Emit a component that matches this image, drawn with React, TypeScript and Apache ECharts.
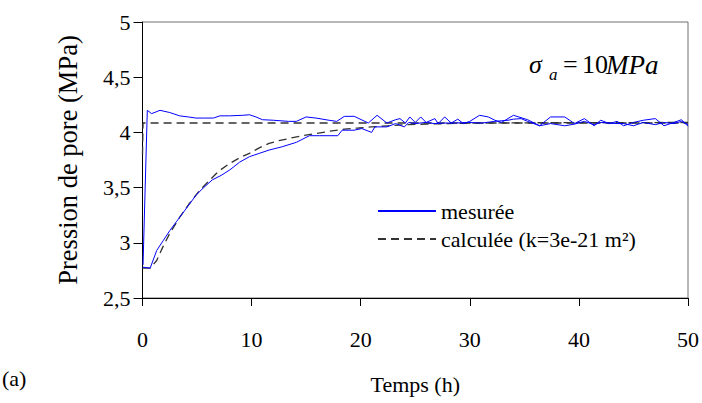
import React, { useEffect, useRef } from "react";
import * as echarts from "echarts";

const xTicks = [0, 10, 20, 30, 40, 50];
const yTicks = [2.5, 3, 3.5, 4, 4.5, 5];
const legendMeasured = "mesurée";
const legendCalc = "calculée (k=3e-21 m²)";

// measured curve reaching the plateau immediately (h, MPa)
const measuredJump = [
  [0.05, 2.8], [0.44, 4.2], [0.84, 4.17], [1.6, 4.2], [2.5, 4.18], [3.4, 4.15], [4.2, 4.14],
  [4.9, 4.13], [5.7, 4.13], [6.5, 4.13], [7.1, 4.15], [8.0, 4.15], [9.2, 4.155], [9.8, 4.16],
  [10.4, 4.14], [11.0, 4.115], [12.0, 4.11], [13.4, 4.1], [14.1, 4.1], [15.0, 4.14], [15.9, 4.13],
  [17.1, 4.11], [17.8, 4.1], [18.5, 4.145], [19.4, 4.146], [20.7, 4.085], [21.5, 4.155],
  [22.4, 4.085], [23.2, 4.115], [23.6, 4.125], [24.1, 4.085], [24.5, 4.14], [25.0, 4.09],
  [25.5, 4.14], [26.0, 4.09], [26.8, 4.125], [27.1, 4.08], [27.7, 4.14], [28.3, 4.085],
  [28.9, 4.12], [29.4, 4.08], [30.0, 4.1], [30.9, 4.155], [31.7, 4.14], [32.3, 4.11],
  [32.9, 4.09], [34.0, 4.155], [35.3, 4.115], [36.4, 4.06], [37.4, 4.14], [38.7, 4.14],
  [39.6, 4.08], [40.5, 4.125], [41.4, 4.06], [42.0, 4.11], [42.8, 4.08], [43.5, 4.1],
  [44.1, 4.06], [45.0, 4.09], [45.9, 4.11], [47.0, 4.125], [47.8, 4.06], [48.7, 4.09],
  [49.4, 4.115], [50.0, 4.055],
];

// measured curve rising slowly (h, MPa)
const measuredRise = [
  [0, 2.78], [0.7, 2.77], [1.3, 2.93], [1.9, 3.02], [2.5, 3.11], [3.1, 3.19], [3.7, 3.27],
  [4.3, 3.35], [4.9, 3.43], [5.6, 3.5], [6.4, 3.57], [7.2, 3.61], [8.0, 3.66], [8.9, 3.73],
  [9.8, 3.78], [10.7, 3.81], [11.6, 3.84], [12.8, 3.87], [14.1, 3.91], [15.3, 3.97],
  [16.2, 3.97], [17.1, 3.97], [17.9, 3.97], [18.3, 4.02], [19.4, 4.02], [20.1, 4.035],
  [21.0, 4.0], [21.3, 4.05], [22.4, 4.05], [23.2, 4.08], [24.0, 4.05], [24.4, 4.09],
  [25.0, 4.08], [25.9, 4.09], [26.8, 4.08], [27.7, 4.085], [28.6, 4.085], [29.9, 4.09],
  [31.1, 4.085], [32.3, 4.1], [33.5, 4.11], [34.0, 4.12], [34.7, 4.125], [35.3, 4.1],
  [36.4, 4.06], [37.4, 4.08], [38.7, 4.06], [39.6, 4.075], [40.5, 4.1], [41.4, 4.07],
  [42.0, 4.09], [43.5, 4.08], [44.1, 4.08], [45.0, 4.06], [45.9, 4.09], [47.0, 4.07],
  [47.8, 4.09], [48.7, 4.08], [49.4, 4.1], [50.0, 4.07],
];

// calculated curves (h, MPa)
const calcRise = [
  [0, 2.77], [0.7, 2.77], [1.3, 2.84], [1.9, 2.97], [2.5, 3.085], [3.4, 3.23], [4.3, 3.356],
  [5.2, 3.47], [6.15, 3.567], [7.0, 3.65], [7.98, 3.718], [8.9, 3.77], [9.8, 3.81],
  [10.7, 3.86], [11.6, 3.9], [12.5, 3.925], [13.4, 3.944], [14.6, 3.97], [15.9, 3.989],
  [17.1, 4.01], [18.5, 4.03], [19.8, 4.04], [21.0, 4.05], [22.5, 4.06], [24, 4.07],
  [26, 4.075], [28, 4.08], [31, 4.085], [35, 4.087], [40, 4.088], [45, 4.089], [50, 4.09],
];
const calcPlateau = [[0, 3.8], [0.05, 4.085], [50, 4.085]];

const FONT = "Liberation Serif";
const fmt = (v: number) => String(v).replace(".", ",");

export default function App() {
  const ref = useRef<HTMLDivElement>(null);
  useEffect(() => {
    if (!ref.current) return;
    const chart = echarts.init(ref.current, null, { renderer: "svg" });
    const blue = { color: "#0000ff", width: 1 };
    const dash = { color: "#333333", width: 1.3, type: [8, 5] as any };
    chart.setOption({
      animation: false,
      backgroundColor: "#ffffff",
      textStyle: { fontFamily: FONT },
      grid: {
        left: 142.5, right: 11, top: 22, bottom: 105,
        show: true, borderColor: "#707070", borderWidth: 1, backgroundColor: "transparent",
      },
      legend: {
        orient: "vertical", left: 372, top: 195, itemWidth: 58, itemHeight: 14, itemGap: 6,
        textStyle: { fontFamily: FONT, fontSize: 22, color: "#000" },
        itemStyle: { opacity: 0 },
        data: [legendMeasured, legendCalc],
      },
      xAxis: {
        type: "value", min: xTicks[0], max: xTicks[xTicks.length - 1], interval: 10,
        name: "Temps (h)", nameLocation: "middle", nameGap: 75,
        nameTextStyle: { fontFamily: FONT, fontSize: 22, color: "#000" },
        axisLine: { show: true, onZero: false, lineStyle: { color: "#000", width: 1 } },
        axisTick: { show: true, inside: false, length: 8, lineStyle: { color: "#000" } },
        axisLabel: { margin: 30, fontFamily: FONT, fontSize: 22, color: "#000", formatter: fmt },
        splitLine: { show: false },
      },
      yAxis: {
        type: "value", min: yTicks[0], max: yTicks[yTicks.length - 1], interval: 0.5,
        name: "Pression de pore (MPa)", nameLocation: "middle", nameGap: 61, nameRotate: 90,
        nameTextStyle: { fontFamily: FONT, fontSize: 26.5, color: "#000" },
        axisLine: { show: true, onZero: false, lineStyle: { color: "#000", width: 1 } },
        axisTick: { show: true, inside: false, length: 9, lineStyle: { color: "#000" } },
        axisLabel: { margin: 12, fontFamily: FONT, fontSize: 22, color: "#000", formatter: fmt },
        splitLine: { show: false },
      },
      series: [
        { name: legendCalc, type: "line", data: calcPlateau, symbol: "none", lineStyle: dash, itemStyle: { color: "#333333" }, z: 2 },
        { name: legendCalc, type: "line", data: calcRise, symbol: "none", lineStyle: dash, itemStyle: { color: "#333333" }, z: 2 },
        { name: legendMeasured, type: "line", data: measuredJump, symbol: "none", lineStyle: blue, itemStyle: { color: "#0000ff" }, z: 3 },
        { name: legendMeasured, type: "line", data: measuredRise, symbol: "none", lineStyle: blue, itemStyle: { color: "#0000ff" }, z: 3 },
      ],
      graphic: [
        { type: "text", left: 2, top: 367, style: { text: "(a)", fontFamily: FONT, fontSize: 22, fill: "#000" } },
        { type: "text", x: 529, y: 64.7, style: { text: "σ", fontFamily: FONT, fontSize: 26, fontStyle: "italic", fill: "#000", verticalAlign: "middle" } },
        { type: "text", x: 549, y: 74.5, style: { text: "a", fontFamily: FONT, fontSize: 17, fontStyle: "italic", fill: "#000", verticalAlign: "middle" } },
        { type: "text", x: 563, y: 64.5, style: { text: "=", fontFamily: FONT, fontSize: 26, fill: "#000", verticalAlign: "middle" } },
        { type: "text", x: 582, y: 64.5, style: { text: "10", fontFamily: FONT, fontSize: 26, fill: "#000", verticalAlign: "middle" } },
        { type: "text", x: 606, y: 64.5, style: { text: "MPa", fontFamily: FONT, fontSize: 27, fontStyle: "italic", fill: "#000", verticalAlign: "middle" } },
      ],
    });
    return () => chart.dispose();
  }, []);
  return (
    <div
      ref={ref}
      style={{ position: "absolute", left: 0, top: 0, width: 702, height: 403, background: "#fff" }}
    />
  );
}
